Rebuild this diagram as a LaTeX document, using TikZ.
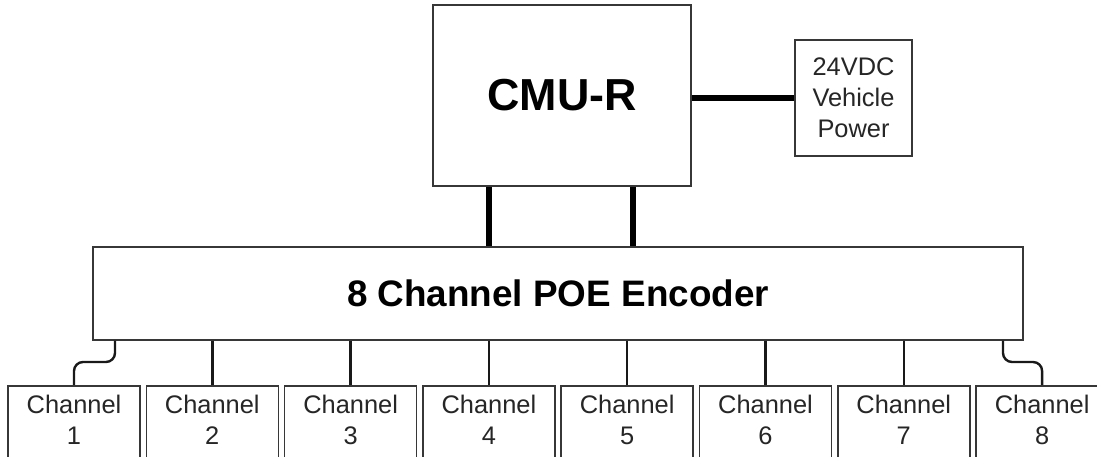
\documentclass[tikz,border=0pt]{standalone}
\usepackage{fontspec}
\setmainfont{Liberation Sans}
\usetikzlibrary{calc}
\definecolor{boxgray}{RGB}{55,55,55}

\begin{document}
\begin{tikzpicture}[
  x=1bp, y=-1bp,
  unit/.style={rectangle, draw=boxgray, line width=1.6bp, fill=white, inner sep=0pt, align=center},
  chanbox/.style={unit, anchor=north, minimum width=132bp, inner ysep=9bp, text depth=40bp,
                  font=\fontsize{25.5}{31}\selectfont, text=black!85},
  bus/.style={line width=6bp, black},
  wire/.style={line width=2.4bp, black!90}
]
\useasboundingbox (0,0) rectangle (1097,457);
\clip (0,0) rectangle (1097,457);

\node[unit, minimum width=258bp, minimum height=181bp,
      font=\fontsize{45}{54}\selectfont\bfseries] (cmu) at (562,95.5) {CMU-R};
\node[unit, minimum width=117bp, minimum height=116bp,
      font=\fontsize{25.5}{31}\selectfont, text=black!85] (power) at (853.5,98) {24VDC\\Vehicle\\Power};
\node[unit, minimum width=930bp, minimum height=93bp,
      font=\fontsize{37}{44}\selectfont\bfseries] (enc) at (558,293.3) {8 Channel POE Encoder};

% channel boxes along the bottom
\foreach \i in {1,...,8}
  \node[chanbox] (ch\i) at ({74+138.3*(\i-1)},385) {Channel\\\i};

% power feed and the two links down to the encoder
\coordinate (tapA) at (489,0);
\coordinate (tapB) at (633,0);
\draw[bus] (power.west -| cmu.east) -- (power.west);
\draw[bus] (cmu.south -| tapA) -- (enc.north -| tapA);
\draw[bus] (cmu.south -| tapB) -- (enc.north -| tapB);

% straight drops for the inner channels
\foreach \i in {2,...,7}
  \draw[wire] (enc.south -| ch\i.north) -- (ch\i.north);

% outer channels jog out past the encoder ends
\coordinate (tapL) at (115,0);
\coordinate (tapR) at (1003,0);
\draw[wire, rounded corners=9bp] (enc.south -| tapL) |- ($(ch1.north)+(0,-23)$) -- (ch1.north);
\draw[wire, rounded corners=9bp] (enc.south -| tapR) |- ($(ch8.north)+(0,-23)$) -- (ch8.north);
\end{tikzpicture}
\end{document}
